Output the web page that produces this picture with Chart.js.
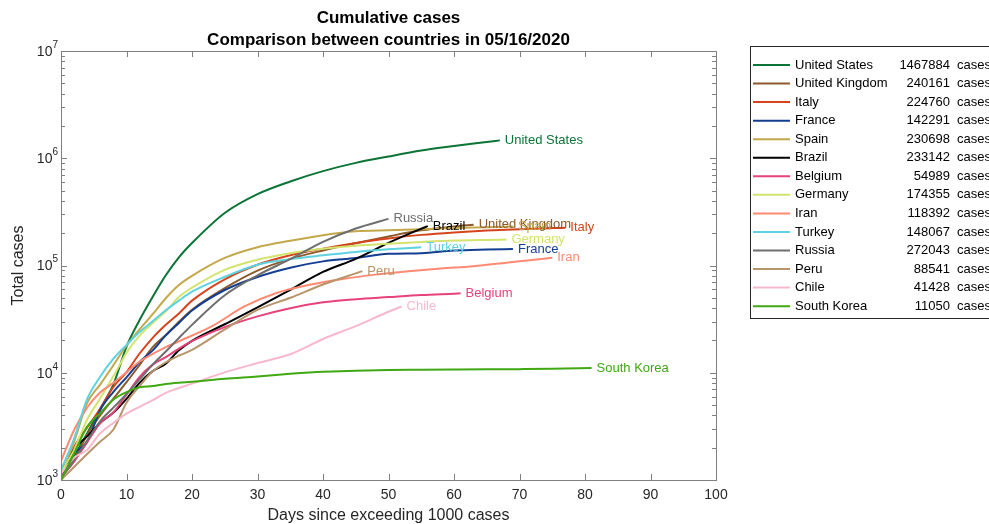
<!DOCTYPE html>
<html><head><meta charset="utf-8">
<script src="https://cdn.jsdelivr.net/npm/chart.js@4.4.1/dist/chart.umd.min.js"></script>
<style>html,body{margin:0;padding:0;background:#fff;overflow:hidden}#wrap{width:989px;height:524px;position:relative}</style>
</head><body><div id="wrap"><canvas id="c" width="989" height="524"></canvas></div>
<script>
// ---- data ----
const names = ['United States','United Kingdom','Italy','France','Spain','Brazil','Belgium','Germany','Iran','Turkey','Russia','Peru','Chile','South Korea'];
const totals = [1467884,240161,224760,142291,230698,233142,54989,174355,118392,148067,272043,88541,41428,11050];
const colors = ['#0B7436','#8C5A2C','#D6441E','#133E92','#C3A84B','#000000','#E8427A','#D3E46E','#FF8A73','#5ED2E0','#6E6E6E','#B8956A','#F8B8CB','#3FA812'];

const usDays = [0,2,4,6,8,10,12,14,16,18,20,25,30,35,40,45,50,55,60,65,67];
const usCases = [1050,1663,2726,4632,7786,17500,31000,51000,81000,119000,161831,308650,462780,607670,759086,905358,1039000,1180375,1300000,1417774,1467884];
const ukDays = [0,2,4,6,8,10,12,14,16,18,20,25,30,35,40,45,50,55,60,63];
const ukCases = [1144,1551,2642,4014,5741,8164,11812,17312,22453,29865,38689,61474,89570,115314,138078,161145,186599,212629,230985,240161];
const itDays = [0,2,4,6,8,10,12,14,16,18,20,25,30,35,40,45,50,55,60,65,70,75,77];
const itCases = [1128,2036,3089,4636,7375,10149,15113,21157,27980,35713,47021,74386,101739,124632,143626,162488,178972,192994,203591,211938,218268,223096,224760];
const frDays = [0,2,4,6,8,10,12,14,16,18,20,25,30,35,40,45,50,55,60,65,69];
const frCases = [1209,1784,2284,4499,6633,9052,12612,16176,22304,29155,38105,59105,78167,95403,109252,117324,128442,130185,137779,140734,142291];
const esDays = [0,2,4,6,8,10,12,14,16,18,20,25,30,35,40,45,50,55,60,65,69];
const esCases = [1073,2277,5232,7798,11748,17963,25374,35136,49515,65719,80110,117710,148220,170099,191726,208389,213435,218011,223578,227436,230698];
const brDays = [0,2,4,6,8,10,12,14,16,18,20,25,30,35,40,45,50,55,56];
const brCases = [1021,1924,2554,3417,4256,5717,8044,10360,12161,16170,19789,28320,40743,59324,87187,115455,162699,220291,233142];
const beDays = [0,2,4,6,8,10,12,14,16,18,20,25,30,35,40,45,50,55,60,61];
const beCases = [1058,1486,2257,3401,4269,6235,9134,11899,13964,16770,19691,26667,33573,39983,45325,48519,50781,53081,54644,54989];
const deDays = [0,2,4,6,8,10,12,14,16,18,20,25,30,35,40,45,50,55,60,65,68];
const deCases = [1176,1908,3675,5795,9257,15320,22213,29056,37323,50871,62095,91159,113296,130072,143342,153129,159912,165664,170588,173171,174355];
const irDays = [0,2,4,6,8,10,12,14,16,18,23,28,33,38,43,48,53,58,63,68,73,75];
const irCases = [1501,2922,4747,6566,8042,10075,12729,14991,17361,19644,27017,41495,55743,66220,74877,82211,88194,93657,98647,106220,114533,118392];
const trDays = [0,2,4,6,8,10,12,14,16,18,20,25,30,35,40,45,50,55];
const trCases = [1236,2433,5698,9217,13531,18135,23934,30217,38226,47029,56956,78546,101790,114653,124375,133721,141475,148067];
const ruDays = [0,2,4,6,8,10,12,14,16,18,20,25,30,35,40,45,50];
const ruCases = [1036,1534,2337,3548,4731,6343,8672,11917,15770,21102,27938,52763,80949,114431,165929,221344,272043];
const peDays = [0,2,4,6,8,10,12,14,16,18,20,25,30,35,40,45,46];
const peCases = [1000,1323,1746,2281,2954,5256,7519,10303,12491,14420,16325,25331,38500,50000,66500,84495,88541];
const clDays = [0,2,4,6,8,10,12,14,16,18,20,25,30,35,40,45,50,52];
const clCases = [1142,1610,1909,2738,3404,4161,4815,5546,6501,7213,7917,10088,12306,14885,20643,27219,37040,41428];
const krDays = [0,2,4,6,8,10,12,14,16,18,20,25,30,35,40,45,50,55,60,65,70,75,81];
const krCases = [1000,1766,3150,4212,5621,6593,7313,7513,7869,8086,8236,8799,9241,9786,10237,10450,10613,10674,10728,10774,10806,10874,11050];

const xTicks = [0,10,20,30,40,50,60,70,80,90,100];
const yExponents = [3,4,5,6,7];
const titleLines = ['Cumulative cases','Comparison between countries in 05/16/2020'];

const series = [[usDays,usCases],[ukDays,ukCases],[itDays,itCases],[frDays,frCases],[esDays,esCases],[brDays,brCases],[beDays,beCases],[deDays,deCases],[irDays,irCases],[trDays,trCases],[ruDays,ruCases],[peDays,peCases],[clDays,clCases],[krDays,krCases]];

const FONT = '"Liberation Sans", Arial, Helvetica, sans-serif';
const TXT = '#262626';
const AXIS = '#808080';

const datasets = series.map((s,i)=>({
  label: names[i],
  data: s[0].map((d,k)=>({x:d, y:s[1][k]})),
  borderColor: colors[i], backgroundColor: colors[i],
  borderWidth: 2, pointRadius: 0, fill:false,
  order: series.length - i,
  cubicInterpolationMode:'monotone'
}));

const decor = {
  id:'decor',
  afterDatasetsDraw(chart){
    const {ctx, chartArea:a, scales:{x,y}} = chart;
    ctx.save();
    // end labels
    ctx.font = '13px ' + FONT;
    ctx.textBaseline = 'middle'; ctx.textAlign = 'left';
    chart.data.datasets.forEach((ds,i)=>{
      const p = ds.data[ds.data.length-1];
      ctx.fillStyle = colors[i];
      ctx.fillText(names[i], x.getPixelForValue(p.x)+5, y.getPixelForValue(p.y));
    });
    // box
    ctx.strokeStyle = AXIS; ctx.lineWidth = 1;
    ctx.strokeRect(Math.round(a.left)+0.5, Math.round(a.top)+0.5, Math.round(a.right-a.left), Math.round(a.bottom-a.top));
    // x ticks
    ctx.beginPath();
    xTicks.forEach(v=>{
      const px = Math.round(x.getPixelForValue(v))+0.5;
      ctx.moveTo(px,a.bottom); ctx.lineTo(px,a.bottom-6);
      ctx.moveTo(px,a.top); ctx.lineTo(px,a.top+6);
    });
    // y ticks major + minor
    for (let e=3;e<=7;e++){
      for (let m=1;m<=9;m++){
        const v = m*Math.pow(10,e);
        if (v>1e7) break;
        const py = Math.round(y.getPixelForValue(v))+0.5;
        const len = m===1?6:4;
        ctx.moveTo(a.left,py); ctx.lineTo(a.left+len,py);
        ctx.moveTo(a.right,py); ctx.lineTo(a.right-len,py);
      }
    }
    ctx.stroke();
    // y tick labels 10^n
    ctx.fillStyle = TXT; ctx.textBaseline='middle';
    yExponents.forEach(e=>{
      const py = y.getPixelForValue(Math.pow(10,e));
      ctx.font = '10px ' + FONT; ctx.textAlign='right';
      ctx.fillText(String(e), 58, py-6);
      const ew = ctx.measureText(String(e)).width;
      ctx.font = '14px ' + FONT;
      ctx.fillText('10', 58-ew, py+1);
    });
    // title
    ctx.fillStyle = '#000'; ctx.textAlign='center';
    ctx.font = 'bold 17px ' + FONT;
    const cx = (a.left+a.right)/2;
    ctx.fillText(titleLines[0], cx, 18);
    ctx.fillText(titleLines[1], cx, 40);
    // legend
    const lx = 750, ly = 46, lh = 272;
    ctx.fillStyle = '#fff'; ctx.fillRect(lx, ly, 260, lh);
    ctx.strokeStyle = '#262626'; ctx.lineWidth=1;
    ctx.strokeRect(lx+0.5, ly+0.5, 260, lh);
    ctx.font = '13px ' + FONT; ctx.textBaseline='middle';
    names.forEach((n,i)=>{
      const ry = 65 + i*18.55;
      ctx.strokeStyle = colors[i]; ctx.lineWidth = 2;
      ctx.beginPath(); ctx.moveTo(753, ry); ctx.lineTo(790, ry); ctx.stroke();
      ctx.fillStyle = '#000'; ctx.textAlign='left';
      ctx.fillText(n, 795, ry);
      ctx.textAlign='right'; ctx.fillText(String(totals[i]), 950, ry);
      ctx.textAlign='left'; ctx.fillText('cases', 957, ry);
    });
    ctx.restore();
  }
};

new Chart(document.getElementById('c'), {
  type:'line',
  data:{datasets},
  options:{
    responsive:false, animation:false, events:[],
    layout:{padding:{left:0,right:273,top:51,bottom:0}},
    plugins:{legend:{display:false}, tooltip:{enabled:false}, title:{display:false}},
    scales:{
      x:{type:'linear', min:0, max:100,
        grid:{display:false, drawTicks:false}, border:{display:false},
        afterBuildTicks: s=>{ s.ticks = xTicks.map(v=>({value:v})); },
        afterFit: s=>{ s.height = 44; },
        ticks:{padding:7, color:TXT, font:{family:FONT, size:14}, maxRotation:0, autoSkip:false},
        title:{display:true, text:'Days since exceeding 1000 cases', color:TXT, font:{family:FONT, size:16, lineHeight:1}, padding:{top:0,bottom:0}}
      },
      y:{type:'logarithmic', min:1000, max:1e7,
        grid:{display:false, drawTicks:false}, border:{display:false},
        afterBuildTicks: s=>{ s.ticks = yExponents.map(e=>({value:Math.pow(10,e)})); },
        afterFit: s=>{ s.width = 61; },
        ticks:{display:false},
        title:{display:true, text:'Total cases', color:TXT, font:{family:FONT, size:16, lineHeight:1}, padding:{top:11,bottom:0}}
      }
    }
  },
  plugins:[decor]
});
</script></body></html>
